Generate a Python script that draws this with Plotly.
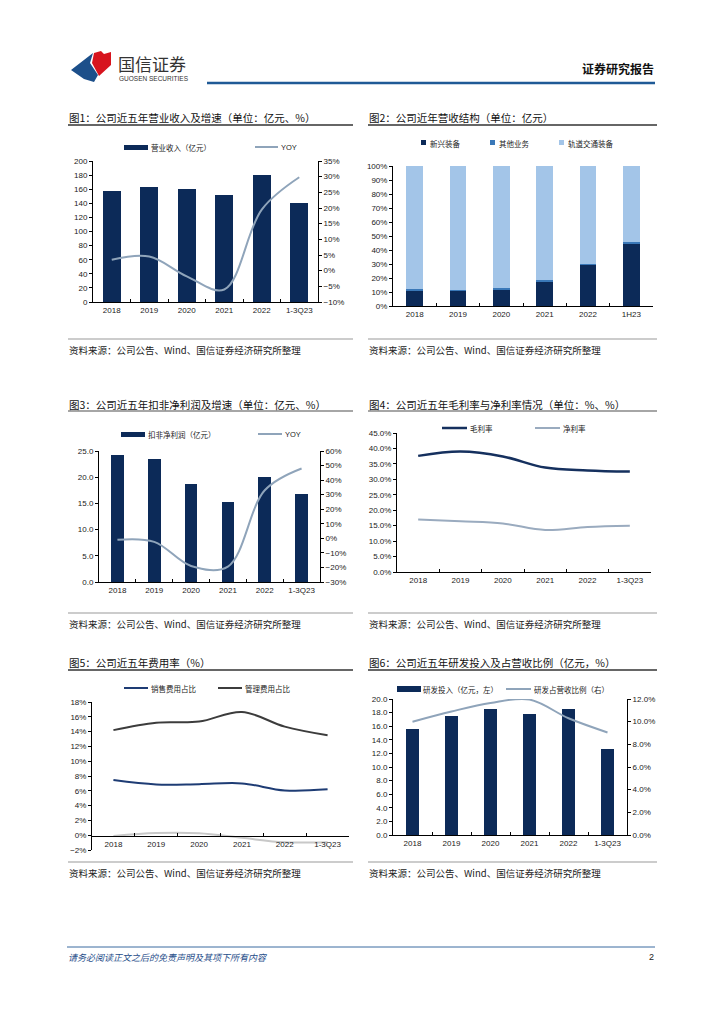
import plotly.graph_objects as go

# ---------------- data ----------------
cats = ["2018", "2019", "2020", "2021", "2022", "1-3Q23"]
cats_h = ["2018", "2019", "2020", "2021", "2022", "1H23"]

revenue = [157, 163, 160, 152, 180, 140]            # 亿元
revenue_yoy = [3.5, 4.5, -1.8, -6.0, 19.5, 29.8]     # %

new_equip = [11.0, 10.5, 11.5, 17.0, 29.0, 44.0]     # %
other_biz = [1.0, 1.2, 1.5, 1.5, 1.2, 1.5]
rail_equip = [88.0, 88.3, 87.0, 81.5, 69.8, 54.5]

profit = [24.2, 23.4, 18.7, 15.3, 20.0, 16.8]        # 亿元
profit_yoy = [-1.0, -2.4, -19.0, -19.4, 33.0, 48.0]  # %

gross_margin = [37.6, 39.0, 37.4, 33.8, 32.9, 32.5]
net_margin = [17.0, 16.4, 15.7, 13.6, 14.6, 15.0]

sell_ratio = [7.45, 6.86, 6.9, 7.0, 6.05, 6.2]
admin_ratio = [14.2, 15.2, 15.35, 16.66, 14.67, 13.5]
fin_ratio = [-0.1, 0.3, 0.27, -0.36, -0.95, -0.95]

rd_invest = [15.6, 17.5, 18.6, 17.8, 18.5, 12.7]
rd_ratio = [10.0, 10.9, 11.65, 11.95, 10.3, 9.05]

# ---------------- style ----------------
W, H = 724, 1024
NAVY = "#0c2a58"
MID = "#3a78b8"
LIGHT = "#a3c5e8"
YOY = "#8fa4ba"
CJK = "Noto Sans CJK SC"
NUM = "Liberation Sans"


def X(p):
    return p / W


def Y(p):
    return 1 - p / H


fig = go.Figure()

# chart 1
fig.add_trace(go.Bar(x=cats, y=revenue, name="营业收入（亿元）", xaxis="x", yaxis="y",
                     marker_color=NAVY, width=0.47))
fig.add_trace(go.Scatter(x=cats, y=revenue_yoy, name="YOY", xaxis="x", yaxis="y2", mode="lines",
                         line=dict(color=YOY, width=2, shape="spline")))
# chart 2
fig.add_trace(go.Bar(x=cats_h, y=new_equip, name="新兴装备", xaxis="x2", yaxis="y3",
                     marker_color=NAVY, width=0.385))
fig.add_trace(go.Bar(x=cats_h, y=other_biz, name="其他业务", xaxis="x2", yaxis="y3",
                     marker_color=MID, width=0.385))
fig.add_trace(go.Bar(x=cats_h, y=rail_equip, name="轨道交通装备", xaxis="x2", yaxis="y3",
                     marker_color=LIGHT, width=0.385))
# chart 3
fig.add_trace(go.Bar(x=cats, y=profit, name="扣非净利润（亿元）", xaxis="x3", yaxis="y4",
                     marker_color=NAVY, width=0.345))
fig.add_trace(go.Scatter(x=cats, y=profit_yoy, name="YOY", xaxis="x3", yaxis="y5", mode="lines",
                         line=dict(color=YOY, width=2, shape="spline")))
# chart 4
fig.add_trace(go.Scatter(x=cats, y=gross_margin, name="毛利率", xaxis="x4", yaxis="y6", mode="lines",
                         line=dict(color="#15305e", width=2.5, shape="spline")))
fig.add_trace(go.Scatter(x=cats, y=net_margin, name="净利率", xaxis="x4", yaxis="y6", mode="lines",
                         line=dict(color="#9aabbf", width=2, shape="spline")))
# chart 5
fig.add_trace(go.Scatter(x=cats, y=sell_ratio, name="销售费用占比", xaxis="x5", yaxis="y7", mode="lines",
                         line=dict(color="#1e3c74", width=2, shape="spline")))
fig.add_trace(go.Scatter(x=cats, y=admin_ratio, name="管理费用占比", xaxis="x5", yaxis="y7", mode="lines",
                         line=dict(color="#3c3c3c", width=2, shape="spline")))
fig.add_trace(go.Scatter(x=cats, y=fin_ratio, name="财务费用占比", xaxis="x5", yaxis="y7", mode="lines",
                         line=dict(color="#c8c8c8", width=2, shape="spline")))
# chart 6
fig.add_trace(go.Bar(x=cats, y=rd_invest, name="研发投入（亿元，左）", xaxis="x6", yaxis="y8",
                     marker_color=NAVY, width=0.32))
fig.add_trace(go.Scatter(x=cats, y=rd_ratio, name="研发占营收比例（右）", xaxis="x6", yaxis="y9", mode="lines",
                         line=dict(color=YOY, width=2, shape="spline")))

tickfont = dict(family=NUM, size=8, color="#222")


def xax(x0, x1, anchor, **kw):
    d = dict(domain=[X(x0), X(x1)], anchor=anchor, type="category", range=[-0.5, 5.5],
             showline=True, linecolor="#000", linewidth=1, ticks="inside", tickson="boundaries",
             ticklen=3, tickcolor="#000", tickfont=tickfont, showgrid=False, zeroline=False,
             fixedrange=True, automargin=False)
    d.update(kw)
    return d


def yax(y0, y1, anchor, rng, dtick, side="left", **kw):
    d = dict(anchor=anchor, range=rng, dtick=dtick, showline=True, linecolor="#000", linewidth=1,
             ticks="outside", ticklen=3, tickcolor="#000", tickfont=tickfont, showgrid=False,
             zeroline=False, side=side, fixedrange=True, automargin=False)
    if y0 is not None:
        d["domain"] = [Y(y1), Y(y0)]
    d.update(kw)
    return d


layout = dict(
    template="none",
    width=W, height=H, autosize=False,
    margin=dict(l=0, r=0, t=0, b=0, pad=0, autoexpand=False),
    paper_bgcolor="white", plot_bgcolor="white", showlegend=False, barmode="stack", bargap=0,
    font=dict(family=CJK, color="#222"),
    xaxis=xax(93, 318, "y"),
    yaxis=yax(161, 302, "x", [0, 200], 20),
    yaxis2=yax(None, None, "x", [-10, 35], 5, side="right", overlaying="y", ticksuffix="%"),
    xaxis2=xax(393, 653, "y3"),
    yaxis3=yax(166, 306, "x2", [0, 100], 10, ticksuffix="%"),
    xaxis3=xax(99, 320, "y4"),
    yaxis4=yax(451, 582, "x3", [0, 25], 5, tickformat=".1f"),
    yaxis5=yax(None, None, "x3", [-30, 60], 10, side="right", overlaying="y4", ticksuffix="%"),
    xaxis4=xax(397, 651, "y6"),
    yaxis6=yax(433, 572, "x4", [0, 45], 5, tickformat=".1f", ticksuffix="%"),
    xaxis5=xax(92, 349, "free", position=Y(836)),
    yaxis7=yax(702, 850, "x5", [-2, 18], 2, ticksuffix="%"),
    xaxis6=xax(393, 627, "y8"),
    yaxis8=yax(699, 835, "x6", [0, 20], 2, tickformat=".1f"),
    yaxis9=yax(None, None, "x6", [0, 12], 2, side="right", overlaying="y8", tickformat=".1f", ticksuffix="%"),
)
fig.update_layout(**layout)

shapes = []
annots = []


def line(x0, y0, x1, y1, color, width):
    shapes.append(dict(type="line", xref="paper", yref="paper", x0=X(x0), y0=Y(y0), x1=X(x1), y1=Y(y1),
                       line=dict(color=color, width=width)))


def rect(x0, y0, x1, y1, color):
    shapes.append(dict(type="rect", xref="paper", yref="paper", x0=X(x0), y0=Y(y0), x1=X(x1), y1=Y(y1),
                       line=dict(width=0), fillcolor=color))


def text(x, y, s, size=7.5, color="#222", anchor="left", family=CJK, **kw):
    annots.append(dict(x=X(x), y=Y(y), xref="paper", yref="paper", text=s, showarrow=False,
                       xanchor=anchor, yanchor="middle", font=dict(family=family, size=size, color=color),
                       borderpad=0, **kw))


# header
shapes.append(dict(type="path", xref="paper", yref="paper", fillcolor="#1c4f8a", line=dict(width=0),
                   path="M {},{} L {},{} L {},{} L {},{} L {},{} L {},{} Z".format(
                       X(71), Y(70), X(93), Y(53), X(90), Y(63), X(98), Y(75), X(94), Y(82), X(84), Y(79))))
shapes.append(dict(type="path", xref="paper", yref="paper", fillcolor="#d7141e", line=dict(width=0),
                   path="M {},{} L {},{} L {},{} L {},{} L {},{} L {},{} L {},{} Z".format(
                       X(94), Y(53), X(101), Y(51), X(104), Y(54), X(111), Y(52), X(111), Y(65),
                       X(99), Y(76), X(92), Y(63))))
text(117, 63, "国信证券", size=17, color="#333")
text(118, 78, "GUOSEN SECURITIES", size=6.5, color="#333", family=NUM)
text(655, 68, "<b>证券研究报告</b>", size=12, color="#111", anchor="right")
line(207, 83, 655, 83, "#1f5a96", 2.5)

# footer
line(67, 947, 655, 947, "#3a6aa0", 1)
text(67, 957, "<i>请务必阅读正文之后的免责声明及其项下所有内容</i>", size=9, color="#1f4e8a")
text(655, 957, "2", size=9, color="#222", anchor="right", family=NUM)

src = "资料来源：公司公告、Wind、国信证券经济研究所整理"
titles = [
    (68, 117, 125, 353, "图1：公司近五年营业收入及增速（单位：亿元、%）", "#333"),
    (368, 117, 125, 657, "图2：公司近年营收结构（单位：亿元）", "#333"),
    (68, 404, 411, 353, "图3：公司近五年扣非净利润及增速（单位：亿元、%）", "#888"),
    (368, 404, 411, 657, "图4：公司近五年毛利率与净利率情况（单位：%、%）", "#888"),
    (68, 662, 670, 353, "图5：公司近五年费用率（%）", "#333"),
    (368, 662, 670, 657, "图6：公司近五年研发投入及占营收比例（亿元，%）", "#333"),
]
for x0, ty, ly, x1, t, c in titles:
    text(x0, ty, t, size=10.5, color="#111")
    line(x0, ly, x1, ly, c, 1.5)

for x0, x1 in [(68, 353), (368, 657)]:
    for ly, ty in [(339, 350), (613, 624), (862, 873)]:
        line(x0, ly, x1, ly, "#999", 1)
        text(x0, ty, src, size=9.5, color="#222")

# legends
rect(124, 145, 148, 150, NAVY); text(150, 147, "营业收入（亿元）")
line(255, 147, 278, 147, YOY, 2); text(280, 147, "YOY", family=NUM)

rect(421, 140, 426, 145, NAVY); text(429, 143, "新兴装备")
rect(490, 140, 495, 145, MID); text(498, 143, "其他业务")
rect(559, 140, 564, 145, LIGHT); text(567, 143, "轨道交通装备")

rect(121, 432, 145, 437, NAVY); text(147, 434, "扣非净利润（亿元）")
line(258, 434, 282, 434, YOY, 2); text(284, 434, "YOY", family=NUM)

line(442, 428, 467, 428, "#15305e", 2.5); text(469, 428, "毛利率")
line(535, 428, 560, 428, "#9aabbf", 2); text(562, 428, "净利率")

line(124, 688, 148, 688, "#1e3c74", 2); text(150, 688, "销售费用占比")
line(218, 688, 242, 688, "#3c3c3c", 2); text(244, 688, "管理费用占比")

rect(397, 686, 421, 692, NAVY); text(422, 689, "研发投入（亿元，左）")
line(506, 689, 531, 689, YOY, 2); text(533, 689, "研发占营收比例（右）")

fig.update_layout(shapes=shapes, annotations=annots)
fig.write_html("out.html", config={"displayModeBar": False, "staticPlot": True},
               post_script="document.body.style.margin='0';document.body.style.padding='0';")
